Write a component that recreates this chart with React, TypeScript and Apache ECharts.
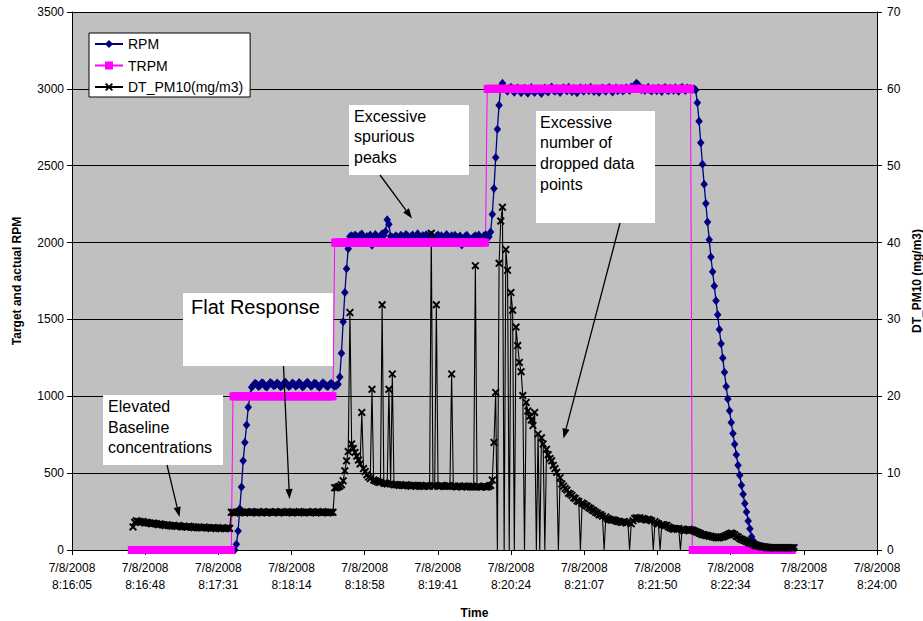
import { useEffect, useRef } from "react";
import * as echarts from "echarts";

// Time axis: seconds after 7/8/2008 8:16:05, one sample per second.
const logDate = "7/8/2008";
const xTickTimes = [
  "8:16:05", "8:16:48", "8:17:31", "8:18:14", "8:18:58", "8:19:41",
  "8:20:24", "8:21:07", "8:21:50", "8:22:34", "8:23:17", "8:24:00",
];
const axisSpanSeconds = 475;

// Target RPM set point (TRPM), first sample at 35 s
const trpmStart = 35;
const trpm = [
  0, 0, 0, 0, 0, 0, 0, 0, 0, 0,
  0, 0, 0, 0, 0, 0, 0, 0, 0, 0,
  0, 0, 0, 0, 0, 0, 0, 0, 0, 0,
  0, 0, 0, 0, 0, 0, 0, 0, 0, 0,
  0, 0, 0, 0, 0, 0, 0, 0, 0, 0,
  0, 0, 0, 0, 0, 0, 0, 0, 0, 0,
  1000, 1000, 1000, 1000, 1000, 1000, 1000, 1000, 1000, 1000,
  1000, 1000, 1000, 1000, 1000, 1000, 1000, 1000, 1000, 1000,
  1000, 1000, 1000, 1000, 1000, 1000, 1000, 1000, 1000, 1000,
  1000, 1000, 1000, 1000, 1000, 1000, 1000, 1000, 1000, 1000,
  1000, 1000, 1000, 1000, 1000, 1000, 1000, 1000, 1000, 1000,
  1000, 1000, 1000, 1000, 1000, 1000, 1000, 1000, 1000, 1000,
  2000, 2000, 2000, 2000, 2000, 2000, 2000, 2000, 2000, 2000,
  2000, 2000, 2000, 2000, 2000, 2000, 2000, 2000, 2000, 2000,
  2000, 2000, 2000, 2000, 2000, 2000, 2000, 2000, 2000, 2000,
  2000, 2000, 2000, 2000, 2000, 2000, 2000, 2000, 2000, 2000,
  2000, 2000, 2000, 2000, 2000, 2000, 2000, 2000, 2000, 2000,
  2000, 2000, 2000, 2000, 2000, 2000, 2000, 2000, 2000, 2000,
  2000, 2000, 2000, 2000, 2000, 2000, 2000, 2000, 2000, 2000,
  2000, 2000, 2000, 2000, 2000, 2000, 2000, 2000, 2000, 2000,
  2000, 2000, 2000, 2000, 2000, 2000, 2000, 2000, 2000, 2000,
  3000, 3000, 3000, 3000, 3000, 3000, 3000, 3000, 3000, 3000,
  3000, 3000, 3000, 3000, 3000, 3000, 3000, 3000, 3000, 3000,
  3000, 3000, 3000, 3000, 3000, 3000, 3000, 3000, 3000, 3000,
  3000, 3000, 3000, 3000, 3000, 3000, 3000, 3000, 3000, 3000,
  3000, 3000, 3000, 3000, 3000, 3000, 3000, 3000, 3000, 3000,
  3000, 3000, 3000, 3000, 3000, 3000, 3000, 3000, 3000, 3000,
  3000, 3000, 3000, 3000, 3000, 3000, 3000, 3000, 3000, 3000,
  3000, 3000, 3000, 3000, 3000, 3000, 3000, 3000, 3000, 3000,
  3000, 3000, 3000, 3000, 3000, 3000, 3000, 3000, 3000, 3000,
  3000, 3000, 3000, 3000, 3000, 3000, 3000, 3000, 3000, 3000,
  3000, 3000, 3000, 3000, 3000, 3000, 3000, 3000, 3000, 3000,
  3000, 3000, 3000, 3000, 3000, 3000, 3000, 3000, 3000, 3000,
  3000,
  0, 0, 0, 0, 0, 0, 0, 0, 0, 0,
  0, 0, 0, 0, 0, 0, 0, 0, 0, 0,
  0, 0, 0, 0, 0, 0, 0, 0, 0, 0,
  0, 0, 0, 0, 0, 0, 0, 0, 0, 0,
  0, 0, 0, 0, 0, 0, 0, 0, 0, 0,
  0, 0, 0, 0, 0, 0, 0, 0, 0, 0,
];

// Measured RPM, first sample at 96 s
const rpmStart = 96;
const rpm = [
  0, 37, 124, 269, 410, 580, 700, 813, 928, 1004, 1058,
  1072, 1085, 1079, 1064, 1070, 1088, 1083, 1066, 1061, 1077,
  1090, 1081, 1068, 1073, 1086, 1079, 1062, 1069, 1084, 1091,
  1075, 1063, 1071, 1087, 1080, 1066, 1074, 1089, 1078, 1060,
  1068, 1083, 1092, 1076, 1065, 1072, 1086, 1081, 1067, 1059,
  1074, 1088, 1080, 1069, 1063, 1077, 1085, 1073, 1066, 1070,
  1078,
  1125, 1280, 1485, 1675, 1830, 1960, 2040,
  2045, 2032, 2050, 2041, 2028, 2047, 2055, 2038, 2026, 2040,
  2036, 2049, 1982, 2030, 2052, 2039, 2027, 2044, 2058, 2046,
  2072, 2148, 2119, 2041, 2033, 2025, 2044, 2037, 2029, 2048,
  2040, 2031, 2053, 2045, 2026, 2039, 2050, 2034, 2042, 2057,
  2038, 2029, 2046, 2035, 2051, 2043, 2030, 2047, 2036, 2024,
  2041, 2049, 2033, 2044, 2027, 2038, 2052, 2040, 2031, 2045,
  2036, 2048, 2029, 2034, 2042, 1984, 2026, 2039, 2047, 2030,
  2018, 2025, 2037, 2044, 2031, 2049, 2035, 2028, 2042, 2051,
  2030, 2038, 2069, 2184, 2351, 2553, 2738, 2894, 3014, 3036,
  3008, 2996, 2985, 3002, 3011, 2990, 2978, 2999, 3006, 2987,
  2974, 2995, 3004, 2983, 2972, 2998, 3009, 2986, 2976, 2993,
  3001, 2982, 2970, 2997, 3005, 2988, 2979, 3000, 3012, 2991,
  2984, 3003, 2995, 2977, 2989, 3007, 2998, 2986, 3010, 2994,
  2981, 3002, 2990, 2975, 2996, 3008, 2992, 2985, 3004, 2999,
  2987, 3011, 2995, 2983, 3001, 2990, 2978, 2997, 3006, 2993,
  2984, 3000, 3009, 2991, 2980, 2998, 3005, 2988, 2996, 3003,
  2986, 2994, 3008, 2999, 2990, 3012, 3004, 3024, 3036, 3028,
  3006, 2995, 3002, 2989, 2999, 3010, 2993, 2986, 3003, 2997,
  2988, 3006, 2996, 2983, 3001, 3009, 2992, 2987, 3004, 2998,
  2990, 3007, 2995, 2984, 3002, 3011, 2997, 2989, 3005, 2999,
  3003, 2996, 3001,
  2992, 2910, 2790, 2649, 2510, 2380, 2254, 2134, 2019, 1906,
  1810, 1718, 1622, 1530, 1434, 1342, 1249, 1156, 1063, 982,
  906, 830, 758, 688, 619, 552, 487, 422, 363, 302,
  248, 189, 139, 87,
  58, 42, 34, 29, 25, 22, 20, 18, 17, 15,
  14, 13, 12, 12, 11, 10, 10, 9, 9, 8,
  8, 8, 7, 7, 7,
];

// DT_PM10 concentration (mg/m3), first sample at 36 s; zeros are dropped readings
const pmStart = 36;
const pm = [
  3.0, 3.6, 3.8, 3.7, 3.7,
  3.6, 3.7, 3.5, 3.6, 3.5, 3.5, 3.4, 3.5, 3.4, 3.4,
  3.3, 3.4, 3.3, 3.3, 3.2, 3.3, 3.2, 3.2, 3.1, 3.2,
  3.1, 3.1, 3.2, 3.1, 3.0, 3.1, 3.0, 3.0, 3.1, 3.0,
  3.0, 2.9, 3.0, 2.9, 3.0, 2.9, 2.9, 3.0, 2.9, 2.9,
  2.9, 2.8, 2.9, 2.9, 2.8, 2.9, 2.8, 2.8, 2.9, 2.8,
  2.8, 2.9, 2.8,
  4.9, 4.9, 4.8, 4.9, 4.9, 5.0, 4.9, 4.9, 4.8, 4.9,
  4.9, 4.9, 5.0, 4.9, 4.9, 4.8, 4.9, 4.9, 4.9, 5.0,
  4.9, 4.8, 4.9, 4.9, 4.9, 4.9, 5.0, 4.9, 4.8, 4.9,
  4.9, 4.9, 4.9, 5.0, 4.9, 4.9, 4.8, 4.9, 4.9, 4.9,
  5.0, 4.9, 4.9, 4.8, 4.9, 4.9, 4.9, 4.9, 5.0, 4.9,
  4.8, 4.9, 4.9, 4.9, 5.0, 4.9, 4.9, 4.8, 4.9, 4.9,
  4.9,
  8.1, 8.1, 8.2, 8.3, 8.5, 9.0, 10.3, 11.6, 12.8, 30.9,
  13.8, 13.2, 12.7, 12.2, 11.7, 11.2, 17.9, 10.6, 10.2, 9.8,
  9.5, 9.3, 20.9, 9.1, 9.0, 8.9, 8.8, 8.8, 31.9, 8.7,
  8.7, 8.6, 20.9, 8.6, 22.9, 8.5,
  8.5, 8.5, 8.4, 8.5, 8.4, 8.4, 8.5, 8.4, 8.4, 8.3,
  8.4, 8.4, 8.3, 8.4, 8.3, 8.4, 8.3, 8.3, 8.4, 8.3,
  8.3, 41.2, 8.3, 8.4, 31.9, 8.3, 8.3, 8.4, 8.3, 8.3,
  8.3, 8.4, 8.3, 22.9, 8.3, 8.3, 8.2, 8.3, 8.3, 8.2,
  8.3, 8.3, 8.2, 8.3, 8.2, 8.3, 8.2, 37.0, 8.2, 8.3,
  8.2, 8.2, 8.3, 8.2, 8.2, 8.3, 8.4,
  9.1, 14.0, 20.5, 0, 37.3, 42.8, 44.6, 0, 39.1, 36.4,
  0, 33.5, 31.2, 0, 29.0, 26.6, 24.4, 23.2, 20.1, 0,
  19.2, 18.1, 17.4, 16.9, 16.2, 17.9, 0, 15.1, 0, 14.6,
  13.8, 0, 13.1, 12.4, 11.9, 11.6, 11.0, 10.6, 10.1, 0,
  9.4, 8.6, 8.3, 8.0, 7.8, 7.4, 7.3, 7.1, 6.8, 6.7,
  6.4, 6.3, 0, 6.1, 6.0, 5.8, 5.7, 5.5, 5.4, 5.2,
  5.1, 4.9, 4.8, 4.6, 4.6, 4.4, 0, 4.3, 4.1, 4.0,
  3.9, 3.9, 3.9, 3.8, 3.7, 3.7, 3.6, 3.6, 3.7, 3.5,
  3.6, 0, 3.4, 3.8, 4.1, 4.2, 4.1, 4.2, 4.0, 4.1,
  4.0, 3.9, 4.0, 3.9, 3.8, 0, 3.7, 3.5, 3.4, 0,
  3.3, 3.3, 3.2, 3.2, 3.0, 2.9, 2.8, 2.7, 2.8, 2.7,
  2.8, 0, 2.7, 2.5, 2.6, 2.6, 2.7, 2.6, 2.6, 2.5,
  2.4, 2.3, 2.2, 2.1, 2.0, 2.0, 1.9, 1.9, 1.8, 1.8,
  1.7, 1.7, 1.6, 1.6, 1.6, 1.7, 1.7, 1.8, 1.9, 2.0,
  2.1, 2.2, 2.1, 2.0, 1.8, 1.7, 1.5, 1.4, 1.3, 1.2,
  1.1, 1.0, 0.9, 0.8, 0.7, 0.6, 0.6, 0.5, 0.5, 0.4,
  0.4, 0.4,
  0.3, 0.3, 0.3, 0.3, 0.3, 0.3, 0.3, 0.3, 0.3, 0.3,
  0.3, 0.3, 0.3, 0.3, 0.3, 0.3, 0.3,
];

const FONT = "'Liberation Sans', Arial, Helvetica, sans-serif";
const tickStep = axisSpanSeconds / (xTickTimes.length - 1);

const toPairs = (start: number, values: number[]) =>
  values.map((v, i) => [start + i, v]);

// dropped readings (zero) are plotted without a marker
const toPmItems = (start: number, values: number[]) =>
  values.map((v, i) =>
    v === 0 ? { value: [start + i, v], symbol: "none" } : [start + i, v]
  );

// filled "x" marker
const crossSymbol =
  "path://M0,1.7L1.7,0L10,8.3L8.3,10ZM8.3,0L10,1.7L1.7,10L0,8.3Z";

function arrow(x1: number, y1: number, x2: number, y2: number) {
  const dx = x2 - x1;
  const dy = y2 - y1;
  const len = Math.hypot(dx, dy);
  const ux = dx / len;
  const uy = dy / len;
  const head = 10;
  const half = 3.6;
  const bx = x2 - ux * head;
  const by = y2 - uy * head;
  return [
    {
      type: "line",
      shape: { x1, y1, x2: bx, y2: by },
      style: { stroke: "#000", lineWidth: 1.3 },
      z: 100,
    },
    {
      type: "polygon",
      shape: {
        points: [
          [x2, y2],
          [bx - uy * half, by + ux * half],
          [bx + uy * half, by - ux * half],
        ],
      },
      style: { fill: "#000" },
      z: 100,
    },
  ];
}

function note(
  x: number,
  y: number,
  w: number,
  h: number,
  text: string,
  fontSize: number,
  lineHeight: number,
  textX: number,
  firstMid: number
) {
  return [
    {
      type: "rect",
      shape: { x, y, width: w, height: h },
      style: { fill: "#ffffff" },
      z: 100,
    },
    {
      type: "text",
      x: textX,
      y: firstMid - lineHeight / 2,
      style: {
        text,
        fontSize,
        fontFamily: FONT,
        fill: "#000",
        lineHeight,
        align: "left",
        verticalAlign: "top",
      },
      z: 101,
    },
  ];
}

export default function App() {
  const ref = useRef<HTMLDivElement>(null);

  useEffect(() => {
    if (!ref.current) return;
    document.body.style.margin = "0";
    const chart = echarts.init(ref.current, undefined, { renderer: "svg" });

    const axisText = { color: "#000", fontSize: 12, fontFamily: FONT };
    const nameText = {
      color: "#000",
      fontSize: 12,
      fontWeight: "bold" as const,
      fontFamily: FONT,
    };
    const blackLine = { lineStyle: { color: "#000", width: 1 } };
    const plain = (v: number) => String(v);

    chart.setOption({
      animation: false,
      backgroundColor: "#ffffff",
      textStyle: { fontFamily: FONT },
      grid: {
        left: 72,
        top: 12,
        width: 805,
        height: 538,
        show: true,
        backgroundColor: "#C0C0C0",
        borderWidth: 0,
        containLabel: false,
        outerBoundsMode: "none",
      },
      legend: {
        orient: "vertical",
        left: 89,
        top: 33,
        backgroundColor: "#ffffff",
        borderColor: "#000",
        borderWidth: 1,
        borderRadius: 0,
        padding: [4, 7, 3, 5],
        itemWidth: 28,
        itemHeight: 10,
        itemGap: 7.5,
        selectedMode: false,
        textStyle: { color: "#000", fontSize: 14, fontFamily: FONT },
        data: ["RPM", "TRPM", "DT_PM10(mg/m3)"],
      },
      xAxis: {
        type: "value",
        min: 0,
        max: axisSpanSeconds,
        interval: tickStep,
        axisLine: { show: true, onZero: false, ...blackLine },
        axisTick: { show: true, inside: false, length: 5, ...blackLine },
        splitLine: { show: false },
        axisLabel: {
          ...axisText,
          lineHeight: 17,
          margin: 9,
          showMinLabel: true,
          showMaxLabel: true,
          hideOverlap: false,
          formatter: (v: number) =>
            `${logDate}\n${xTickTimes[Math.round(v / tickStep)] ?? ""}`,
        },
        name: "Time",
        nameLocation: "middle",
        nameGap: 57,
        nameTextStyle: nameText,
      },
      yAxis: [
        {
          type: "value",
          position: "left",
          min: 0,
          max: 3500,
          interval: 500,
          axisLine: { show: true, onZero: false, ...blackLine },
          axisTick: { show: true, inside: false, length: 5, ...blackLine },
          axisLabel: { ...axisText, margin: 8, formatter: plain },
          splitLine: { show: true, ...blackLine },
          name: "Target and actual RPM",
          nameLocation: "middle",
          nameRotate: 90,
          nameGap: 49,
          nameTextStyle: nameText,
        },
        {
          type: "value",
          position: "right",
          min: 0,
          max: 70,
          interval: 10,
          axisLine: { show: true, onZero: false, ...blackLine },
          axisTick: { show: true, inside: false, length: 5, ...blackLine },
          axisLabel: { ...axisText, margin: 10, formatter: plain },
          splitLine: { show: false },
          name: "DT_PM10 (mg/m3)",
          nameLocation: "middle",
          nameRotate: 90,
          nameGap: 28,
          nameTextStyle: nameText,
        },
      ],
      series: [
        {
          name: "RPM",
          type: "line",
          yAxisIndex: 0,
          data: toPairs(rpmStart, rpm),
          symbol: "diamond",
          symbolSize: [7.5, 9],
          showAllSymbol: true,
          clip: false,
          color: "#000080",
          itemStyle: { color: "#000080" },
          lineStyle: { color: "#000080", width: 1.3 },
          emphasis: { disabled: true },
        },
        {
          name: "TRPM",
          type: "line",
          yAxisIndex: 0,
          data: toPairs(trpmStart, trpm),
          symbol: "rect",
          symbolSize: [7, 8],
          showAllSymbol: true,
          clip: false,
          color: "#FF00FF",
          itemStyle: { color: "#FF00FF" },
          lineStyle: { color: "#FF00FF", width: 1 },
          emphasis: { disabled: true },
        },
        {
          name: "DT_PM10(mg/m3)",
          type: "line",
          yAxisIndex: 1,
          data: toPmItems(pmStart, pm),
          symbol: crossSymbol,
          symbolSize: 8,
          showAllSymbol: true,
          clip: false,
          color: "#000000",
          itemStyle: { color: "#000000" },
          lineStyle: { color: "#000000", width: 1.1 },
          emphasis: { disabled: true },
        },
      ],
      graphic: {
        elements: [
          ...note(103, 395, 120, 70, "Elevated\nBaseline\nconcentrations", 16, 20.3, 108, 406.8),
          ...note(183, 293, 150, 73, "Flat Response", 20, 24, 191, 306.5),
          ...note(349, 105, 120, 70, "Excessive\nspurious\npeaks", 16, 20.5, 354, 116.2),
          ...note(536, 111, 119, 112, "Excessive\nnumber of\ndropped data\npoints", 16, 20.8, 540, 122.2),
          ...arrow(167, 465, 179.5, 517),
          ...arrow(283.5, 366, 289.5, 499),
          ...arrow(380, 175, 412, 218.5),
          ...arrow(620, 223, 563.5, 438.5),
        ],
      },
    });

    return () => chart.dispose();
  }, []);

  return (
    <div
      ref={ref}
      style={{
        position: "absolute",
        left: 0,
        top: 0,
        width: 923,
        height: 621,
        background: "#ffffff",
      }}
    />
  );
}
